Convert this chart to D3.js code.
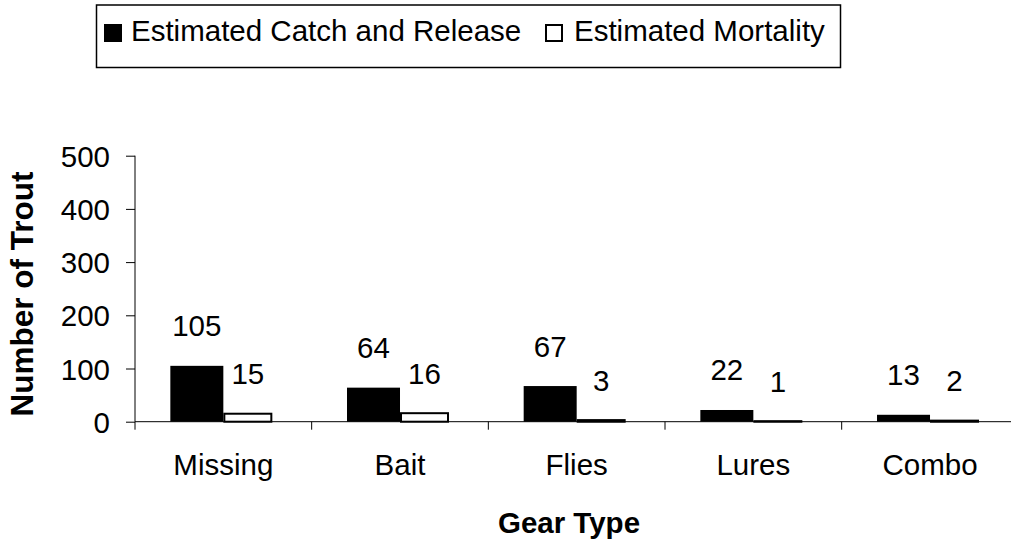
<!DOCTYPE html>
<html>
<head>
<meta charset="utf-8">
<script src="https://cdn.jsdelivr.net/npm/d3@7"></script>
<style>
  body { margin: 0; background: #fff; }
  svg { display: block; font-family: "Liberation Sans", Arial, sans-serif; }
</style>
</head>
<body>
<svg id="chart" width="1011" height="546"></svg>
<script>
// data
var categories = ["Missing", "Bait", "Flies", "Lures", "Combo"];
var seriesNames = ["Estimated Catch and Release", "Estimated Mortality"];
var catchRelease = [105, 64, 67, 22, 13];
var mortality = [15, 16, 3, 1, 2];
var yTicks = [0, 100, 200, 300, 400, 500];

var svg = d3.select("#chart");

var plotLeft = 135, plotBottom = 421.7, plotTop = 155.7, bandW = 176.67;
var fontSize = 29.5;

var x = d3.scaleBand()
    .domain(categories)
    .range([plotLeft, plotLeft + bandW * categories.length]);

// two bars per group, side by side around the group centre
var xSub = d3.scaleBand()
    .domain(seriesNames)
    .range([-53, 53]);

var y = d3.scaleLinear()
    .domain([0, 500])
    .range([plotBottom, plotTop]);

// bars
var rows = [];
categories.forEach(function(c, i) {
    rows.push({ cat: c, series: seriesNames[0], value: catchRelease[i] });
    rows.push({ cat: c, series: seriesNames[1], value: mortality[i] });
});

function barX(d) {
    var cx = x(d.cat) + x.bandwidth() / 2;
    return d.series == seriesNames[0] ? cx + xSub(d.series) : cx + xSub(d.series) + 1;
}
function barW(d) {
    return d.series == seriesNames[0] ? xSub.bandwidth() : xSub.bandwidth() - 6;
}

svg.append("g")
    .selectAll("rect")
    .data(rows)
    .enter().append("rect")
    .attr("x", barX)
    .attr("width", barW)
    .attr("y", function(d) { return y(d.value); })
    .attr("height", function(d) { return plotBottom - y(d.value); })
    .style("fill", function(d) { return d.series == seriesNames[0] ? "#000" : "#fff"; })
    .style("stroke", function(d) { return d.series == seriesNames[0] ? "none" : "#000"; })
    .style("stroke-width", 2);

// value labels
svg.append("g")
    .selectAll("text")
    .data(rows)
    .enter().append("text")
    .attr("x", function(d) { return barX(d) + barW(d) / 2; })
    .attr("y", function(d) { return y(d.value) - 29.5; })
    .attr("text-anchor", "middle")
    .style("font-size", fontSize + "px")
    .text(function(d) { return d.value; });

// y axis
var yAxis = svg.append("g")
    .attr("transform", "translate(" + plotLeft + ",0)")
    .call(d3.axisLeft(y).tickValues(yTicks).tickSize(9).tickPadding(16));
yAxis.selectAll("text").style("font-size", fontSize + "px").attr("dy", "0.36em")
    .style("font-family", "Liberation Sans, Arial, sans-serif").attr("fill", "#000");
yAxis.selectAll("line, path").attr("stroke", "#000");
yAxis.select(".domain").attr("d", "M0," + plotTop + "V" + plotBottom);

// x axis: ticks on category boundaries, labels in the middle
var xAxisG = svg.append("g").attr("transform", "translate(0," + plotBottom + ")");
xAxisG.append("line")
    .attr("x1", x.range()[0]).attr("x2", x.range()[1])
    .attr("stroke", "#000");
xAxisG.selectAll(".tick")
    .data(categories)
    .enter().append("line")
    .attr("x1", function(d) { return x(d); })
    .attr("x2", function(d) { return x(d); })
    .attr("y1", 0).attr("y2", 8)
    .attr("stroke", "#000");
xAxisG.selectAll(".lbl")
    .data(categories)
    .enter().append("text")
    .attr("x", function(d) { return x(d) + x.bandwidth() / 2; })
    .attr("y", 475 - plotBottom)
    .attr("text-anchor", "middle")
    .style("font-size", fontSize + "px")
    .text(function(d) { return d; });

// axis titles
svg.append("text")
    .attr("x", 569).attr("y", 533)
    .attr("text-anchor", "middle")
    .style("font-size", fontSize + "px")
    .style("font-weight", "bold")
    .text("Gear Type");

svg.append("text")
    .attr("transform", "translate(33,294) rotate(-90)")
    .attr("text-anchor", "middle")
    .style("font-size", "31.5px")
    .style("font-weight", "bold")
    .text("Number of Trout");

// legend
var legend = svg.append("g");
legend.append("rect")
    .attr("x", 96.5).attr("y", 5).attr("width", 744).attr("height", 62.5)
    .style("fill", "none").style("stroke", "#000").style("stroke-width", 1.5);

var legendItems = [
    { name: seriesNames[0], sx: 105, tx: 131, fill: "#000" },
    { name: seriesNames[1], sx: 546, tx: 574, fill: "#fff" }
];
legend.selectAll(".sw")
    .data(legendItems)
    .enter().append("rect")
    .attr("x", function(d) { return d.sx; })
    .attr("y", 25)
    .attr("width", 16).attr("height", 16)
    .style("fill", function(d) { return d.fill; })
    .style("stroke", "#000").style("stroke-width", 2);
legend.selectAll(".lt")
    .data(legendItems)
    .enter().append("text")
    .attr("x", function(d) { return d.tx; })
    .attr("y", 41)
    .style("font-size", fontSize + "px")
    .text(function(d) { return d.name; });
</script>
</body>
</html>
